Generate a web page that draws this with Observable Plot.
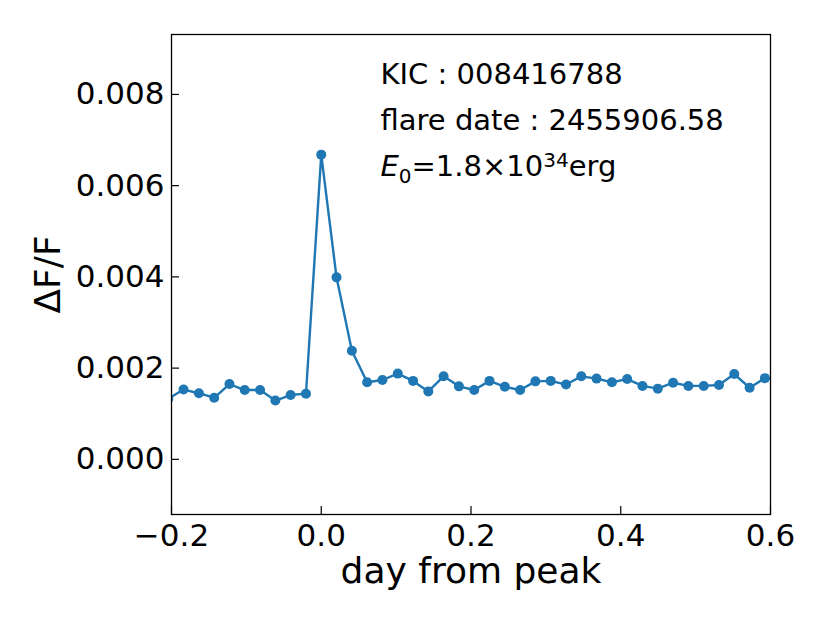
<!DOCTYPE html>
<html><head><meta charset="utf-8">
<script src="https://cdn.jsdelivr.net/npm/d3@7"></script>
<script src="https://cdn.jsdelivr.net/npm/@observablehq/plot@0.6"></script>
<style>
body{margin:0;background:#fff;}
#chart svg{display:block;}
</style></head>
<body><div id="chart"></div>
<script>
// day from peak (Kepler long cadence samples)
const days = [-0.2043, -0.1839, -0.1634, -0.1430, -0.1226, -0.1022, -0.0817, -0.0613, -0.0409, -0.0204,
  0.0000, 0.0204, 0.0409, 0.0613, 0.0817, 0.1022, 0.1226, 0.1430, 0.1634, 0.1839,
  0.2043, 0.2247, 0.2452, 0.2656, 0.2860, 0.3065, 0.3269, 0.3473, 0.3677, 0.3882,
  0.4086, 0.4290, 0.4495, 0.4699, 0.4903, 0.5108, 0.5312, 0.5516, 0.5721, 0.5925, 0.6129];
// ΔF/F
const flux = [0.00133, 0.00153, 0.00145, 0.00135, 0.00165, 0.00152, 0.00152, 0.00129, 0.00141, 0.00144,
  0.00668, 0.00399, 0.00238, 0.00169, 0.00174, 0.00188, 0.00172, 0.00149, 0.00182, 0.00160,
  0.00152, 0.00172, 0.00159, 0.00152, 0.00171, 0.00172, 0.00164, 0.00182, 0.00177, 0.00169,
  0.00176, 0.00161, 0.00155, 0.00168, 0.00161, 0.00161, 0.00163, 0.00187, 0.00157, 0.00178, 0.00176];
const xTicks = [-0.2, 0.0, 0.2, 0.4, 0.6];
const yTicks = [0.000, 0.002, 0.004, 0.006, 0.008];
const xDomain = [-0.2, 0.6];
const yDomain = [-0.001209, 0.009314];
const xLabel = "day from peak";
const yLabel = "ΔF/F";
const kicLine = "KIC : 008416788";
const dateLine = "flare date : 2455906.58";
const energySymbol = "E", energySub = "0", energyMantissa = "=1.8×10", energyExp = "34", energyUnit = "erg";
const energyLine = energySymbol + energySub + energyMantissa + energyExp + energyUnit;

const data = days.map((d, i) => ({day: d, flux: flux[i]}));
const W = 830, H = 623, mL = 171, mR = 60, mT = 34, mB = 109;
const plotW = W - mL - mR, plotH = H - mT - mB;
const blue = "#1f77b4";
const font = "DejaVu Sans";

const chart = Plot.plot({
  width: W, height: H,
  marginLeft: mL, marginRight: mR, marginTop: mT, marginBottom: mB,
  style: {fontFamily: font, background: "white", color: "black", fontSize: "31px"},
  x: {domain: xDomain, ticks: xTicks, tickFormat: d3.format(".1f")},
  y: {domain: yDomain, ticks: yTicks, tickFormat: d3.format(".3f")},
  marks: [
    Plot.line(data, {x: "day", y: "flux", stroke: blue, strokeWidth: 2.4, clip: true}),
    Plot.dot(data, {x: "day", y: "flux", r: 5, fill: blue, stroke: "none", clip: true}),
    Plot.tickX(xTicks, {x: d => d, insetTop: plotH - 8, stroke: "black", strokeWidth: 1.2}),
    Plot.tickY(yTicks, {y: d => d, insetRight: plotW - 8, stroke: "black", strokeWidth: 1.2}),
    Plot.axisX({ticks: xTicks, tickFormat: d3.format(".1f"), tickSize: 0, tickPadding: 9, fontSize: 31, label: null}),
    Plot.axisY({ticks: yTicks, tickFormat: d3.format(".3f"), tickSize: 0, tickPadding: 7, fontSize: 31, label: null}),
    Plot.frame({stroke: "black", strokeWidth: 1.3}),
    Plot.text([xLabel], {text: d => d, frameAnchor: "bottom", dy: 68, lineAnchor: "bottom", fontSize: 36, fill: "black"}),
    Plot.text([yLabel], {text: d => d, frameAnchor: "left", dx: -123, rotate: -90, textAnchor: "middle", lineAnchor: "middle", fontSize: 36, fill: "black"}),
    Plot.text([kicLine], {text: d => d, frameAnchor: "top-left", dx: 380 - mL, dy: 83 - mT, lineAnchor: "bottom", textAnchor: "start", fontSize: 29, fill: "black"}),
    Plot.text([dateLine], {text: d => d, frameAnchor: "top-left", dx: 380 - mL, dy: 129.5 - mT, lineAnchor: "bottom", textAnchor: "start", fontSize: 29, fill: "black"}),
    Plot.text([energyLine], {text: d => d, frameAnchor: "top-left", dx: 380 - mL, dy: 175 - mT, lineAnchor: "bottom", textAnchor: "start", fontSize: 29, fill: "black"})
  ]
});

// rich text for E_0 = 1.8×10^34 erg
d3.select(chart).selectAll("text").each(function () {
  if (this.textContent !== energyLine) return;
  const t = d3.select(this);
  t.selectAll("*").remove();
  t.text(null);
  t.append("tspan").attr("font-style", "italic").text(energySymbol);
  t.append("tspan").attr("font-size", 20).attr("dy", 7).text(energySub);
  t.append("tspan").attr("dy", -7).text(energyMantissa);
  t.append("tspan").attr("font-size", 20).attr("dy", -8.5).text(energyExp);
  t.append("tspan").attr("dy", 8.5).text(energyUnit);
});
document.getElementById("chart").appendChild(chart);
</script>
</body></html>
